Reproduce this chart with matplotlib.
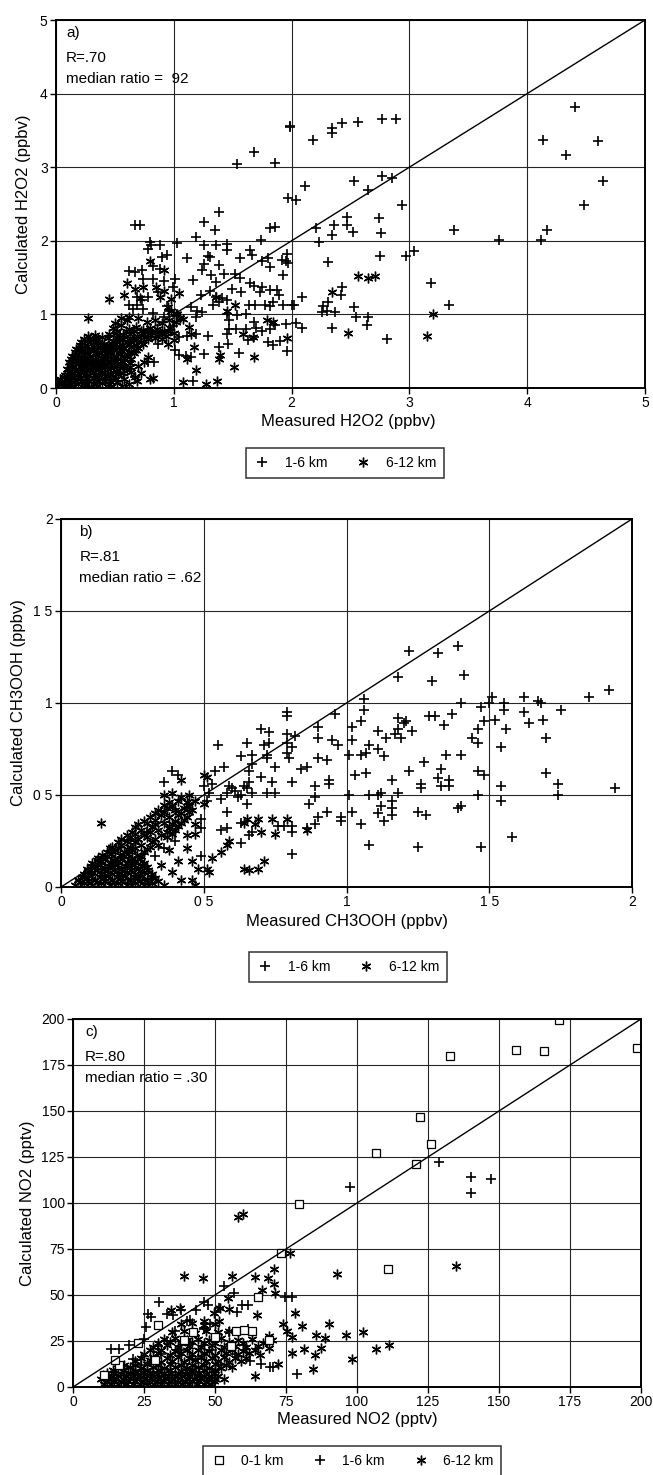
import numpy as np
import matplotlib
matplotlib.use("Agg")
import matplotlib.pyplot as plt
from matplotlib.lines import Line2D

plt.rcParams["font.family"] = ["Liberation Sans", "DejaVu Sans"]

# ---------------- panel a : H2O2 (ppbv), (measured, calculated) ----------------
h2o2_1_6km = [
    (4.41, 3.82), (4.13, 3.37), (4.60, 3.36), (4.33, 3.16), (4.64, 2.81), (4.48, 2.48),
    (4.17, 2.15), (4.12, 2.01), (3.76, 2.01), (3.38, 2.14), (3.18, 1.42), (3.34, 1.13),
    (3.04, 1.86), (2.97, 1.79), (2.94, 2.49), (2.85, 2.86), (2.77, 2.88), (2.89, 3.66),
    (2.77, 3.66), (2.56, 3.61), (2.43, 3.60), (2.34, 3.53), (2.34, 3.47), (2.18, 3.37),
    (1.99, 3.56), (1.99, 3.54), (1.86, 3.06), (1.68, 3.20), (1.54, 3.05), (2.53, 2.81),
    (2.65, 2.69), (2.11, 2.74), (1.97, 2.58), (2.04, 2.55), (2.21, 2.18), (2.23, 1.98),
    (2.36, 2.22), (2.34, 2.08), (2.47, 2.33), (2.47, 2.22), (2.52, 2.12), (2.74, 2.31),
    (2.76, 2.11), (2.75, 1.79), (2.31, 1.71), (2.43, 1.37), (2.42, 1.26), (2.31, 1.17),
    (2.27, 1.11), (2.30, 1.05), (2.26, 1.03), (2.37, 1.03), (2.53, 1.10), (2.55, 0.97),
    (2.65, 0.97), (2.64, 0.86), (2.81, 0.66), (2.34, 0.81), (2.09, 0.82), (2.09, 1.24),
    (2.00, 1.13), (2.02, 1.13), (1.96, 0.50), (2.04, 0.88), (1.95, 0.87), (1.86, 0.85),
    (1.82, 0.80), (1.80, 0.62), (1.84, 0.59), (1.90, 0.64), (1.75, 0.77), (1.68, 0.69),
    (1.63, 0.65), (1.68, 0.90), (1.70, 0.81), (1.61, 0.80), (1.53, 0.80), (1.47, 0.80),
    (1.45, 0.74), (1.47, 0.93), (1.46, 0.60), (1.38, 0.56), (1.55, 0.47), (1.26, 0.46),
    (1.29, 0.70), (1.19, 0.74), (1.11, 0.71), (1.04, 0.69), (1.16, 0.09), (1.04, 0.45),
    (1.10, 0.43), (1.15, 0.42), (1.01, 0.51), (1.19, 0.96), (1.15, 1.10), (1.24, 1.03),
    (1.23, 1.26), (1.31, 1.32), (1.36, 1.44), (1.32, 1.53), (1.24, 1.60), (1.26, 1.69),
    (1.29, 1.80), (1.31, 1.78), (1.19, 2.05), (1.26, 2.25), (1.38, 2.39), (1.35, 2.14),
    (1.26, 1.94), (1.36, 1.94), (1.45, 1.87), (1.45, 1.96), (1.11, 1.76), (1.16, 1.47),
    (1.03, 1.97), (1.01, 1.48), (1.38, 1.67), (1.43, 1.55), (1.52, 1.55), (1.56, 1.50),
    (1.49, 1.35), (1.41, 1.22), (1.36, 1.24), (1.45, 1.20), (1.38, 1.17), (1.33, 1.13),
    (1.20, 1.05), (1.45, 1.01), (1.54, 0.99), (1.61, 1.01), (1.57, 1.30), (1.64, 1.13),
    (1.69, 1.13), (1.77, 1.13), (1.84, 1.17), (1.82, 1.12), (1.89, 1.26), (1.93, 1.13),
    (1.88, 1.33), (1.82, 1.33), (1.75, 1.37), (1.68, 1.38), (1.65, 1.43), (1.73, 1.30),
    (1.65, 1.87), (1.66, 1.81), (1.56, 1.76), (1.75, 1.73), (1.80, 1.77), (1.82, 1.64),
    (1.92, 1.74), (1.95, 1.72), (1.96, 1.82), (1.93, 1.54), (1.82, 2.18), (1.86, 2.19),
    (1.74, 2.01), (1.97, 1.70), (0.67, 2.22), (0.71, 2.22), (0.78, 1.89), (0.80, 1.98),
    (0.88, 1.94), (0.81, 1.94), (0.90, 1.78), (0.94, 1.81), (0.82, 1.66), (0.88, 1.62),
    (0.73, 1.60), (0.62, 1.59), (0.67, 1.57), (0.74, 1.48), (0.82, 1.48), (0.92, 1.45),
    (0.99, 1.37), (0.87, 1.30), (0.78, 1.24), (0.73, 1.19), (0.69, 1.23), (0.62, 1.13),
    (0.69, 1.13), (0.65, 1.08), (0.74, 1.08), (0.82, 1.02), (0.92, 0.96), (0.87, 0.60),
    (0.83, 0.35), (0.78, 0.35), (0.67, 0.15), (0.96, 1.05), (0.94, 1.12), (0.99, 0.84),
]
h2o2_6_12km = [
    # dense cloud near the origin
    (0.02, 0.03), (0.05, 0.08), (0.08, 0.04), (0.10, 0.10), (0.13, 0.05), (0.16, 0.11),
    (0.19, 0.06), (0.22, 0.10), (0.25, 0.04), (0.28, 0.09), (0.32, 0.05), (0.35, 0.10),
    (0.39, 0.07), (0.03, 0.12), (0.07, 0.15), (0.01, 0.07), (0.12, 0.02), (0.30, 0.02),
    (0.04, 0.06), (0.14, 0.08), (0.24, 0.07), (0.34, 0.06), (0.42, 0.09),
    (0.10, 0.14), (0.15, 0.15), (0.20, 0.13), (0.26, 0.14), (0.31, 0.13), (0.36, 0.15),
    (0.41, 0.13), (0.46, 0.14), (0.51, 0.12),
    (0.08, 0.18), (0.13, 0.19), (0.18, 0.17), (0.23, 0.20), (0.28, 0.18), (0.33, 0.17),
    (0.38, 0.20), (0.43, 0.18), (0.48, 0.16), (0.53, 0.19),
    (0.11, 0.22), (0.16, 0.23), (0.21, 0.21), (0.26, 0.23), (0.31, 0.22), (0.36, 0.24),
    (0.41, 0.22), (0.46, 0.21), (0.51, 0.23), (0.57, 0.21),
    (0.09, 0.26), (0.14, 0.28), (0.19, 0.26), (0.24, 0.28), (0.29, 0.26), (0.34, 0.29),
    (0.39, 0.27), (0.44, 0.26), (0.49, 0.28), (0.54, 0.27), (0.60, 0.25),
    (0.12, 0.31), (0.17, 0.32), (0.22, 0.30), (0.27, 0.32), (0.32, 0.31), (0.37, 0.30),
    (0.42, 0.32), (0.47, 0.31), (0.52, 0.32), (0.58, 0.30), (0.63, 0.29),
    (0.11, 0.35), (0.16, 0.37), (0.21, 0.35), (0.26, 0.37), (0.31, 0.36), (0.36, 0.34),
    (0.41, 0.37), (0.46, 0.35), (0.51, 0.37), (0.57, 0.36), (0.63, 0.34),
    (0.13, 0.40), (0.18, 0.41), (0.23, 0.39), (0.28, 0.41), (0.33, 0.40), (0.38, 0.41),
    (0.43, 0.39), (0.48, 0.41), (0.53, 0.40), (0.58, 0.41), (0.64, 0.39),
    (0.14, 0.44), (0.19, 0.46), (0.24, 0.45), (0.29, 0.43), (0.34, 0.46), (0.39, 0.45),
    (0.44, 0.47), (0.49, 0.44), (0.54, 0.46), (0.60, 0.45), (0.66, 0.47),
    (0.16, 0.49), (0.21, 0.50), (0.26, 0.48), (0.31, 0.50), (0.36, 0.49), (0.41, 0.50),
    (0.46, 0.49), (0.51, 0.51), (0.56, 0.50), (0.62, 0.49), (0.68, 0.51),
    (0.17, 0.53), (0.22, 0.55), (0.27, 0.53), (0.32, 0.56), (0.37, 0.54), (0.42, 0.52),
    (0.47, 0.55), (0.52, 0.57), (0.58, 0.54), (0.64, 0.56), (0.70, 0.55),
    (0.20, 0.58), (0.25, 0.59), (0.30, 0.60), (0.35, 0.58), (0.40, 0.57), (0.45, 0.59),
    (0.50, 0.60), (0.56, 0.59), (0.62, 0.60), (0.68, 0.59), (0.74, 0.60),
    (0.21, 0.62), (0.26, 0.64), (0.31, 0.66), (0.36, 0.62), (0.41, 0.60), (0.48, 0.64),
    (0.54, 0.66), (0.60, 0.63), (0.66, 0.65), (0.72, 0.63), (0.78, 0.66),
    (0.24, 0.67), (0.29, 0.68), (0.34, 0.67), (0.39, 0.69), (0.44, 0.68), (0.51, 0.69),
    (0.57, 0.67), (0.63, 0.68), (0.69, 0.66), (0.75, 0.69), (0.84, 0.68), (0.90, 0.66),
    (0.27, 0.70), (0.33, 0.72), (0.45, 0.73), (0.51, 0.75), (0.57, 0.72), (0.63, 0.74),
    (0.69, 0.71), (0.75, 0.74), (0.81, 0.72), (0.87, 0.73), (0.93, 0.70),
    (0.52, 0.78), (0.59, 0.77), (0.66, 0.77), (0.72, 0.78), (0.78, 0.77), (0.84, 0.76),
    (0.90, 0.75), (0.95, 0.77),
    (0.48, 0.82), (0.55, 0.86), (0.62, 0.80), (0.68, 0.83), (0.74, 0.79), (0.80, 0.82),
    (0.86, 0.80), (0.92, 0.78), (0.97, 0.82), (1.00, 0.75), (0.60, 0.92), (0.70, 0.95),
    (0.77, 0.90), (0.84, 0.93), (0.90, 0.88), (0.96, 0.92), (1.02, 0.90), (1.02, 1.00),
    (0.98, 1.05), (1.05, 0.95), (1.00, 0.65), (0.95, 0.60), (0.46, 0.10), (0.52, 0.08),
    (0.58, 0.12), (0.62, 0.06), (0.56, 0.03), (0.67, 0.15), (0.64, 0.22), (0.70, 0.30),
    (0.72, 0.20), (0.75, 0.36), (0.80, 0.12), (0.82, 0.14), (0.78, 0.42), (0.69, 0.10),
    (0.45, 0.05), (0.47, 0.02),
    # scattered points
    (0.27, 0.95), (0.45, 1.21), (0.60, 1.43), (0.71, 1.22), (0.67, 1.35), (0.58, 1.26),
    (0.74, 1.37), (0.85, 1.37), (0.92, 1.32), (0.92, 1.60), (0.88, 1.23), (0.80, 1.73),
    (0.95, 1.10), (1.04, 1.29), (0.98, 1.21), (1.03, 1.01), (1.08, 0.94), (1.13, 0.83),
    (1.15, 0.74), (1.11, 0.39), (1.17, 0.56), (1.39, 0.45), (1.45, 1.05), (1.52, 1.13),
    (1.59, 0.74), (1.36, 1.24), (1.79, 0.92), (1.84, 0.90), (1.67, 0.69), (1.38, 0.40),
    (1.51, 0.29), (1.68, 0.42), (1.19, 0.25), (1.08, 0.08), (1.27, 0.06), (1.37, 0.10),
    (1.96, 0.68), (2.48, 0.75), (2.34, 1.30), (2.56, 1.52), (2.65, 1.50), (2.71, 1.52),
    (3.15, 0.71), (3.20, 1.01), (0.81, 0.76), (0.62, 0.97), (0.55, 0.95), (0.50, 0.88),
]

# ---------------- panel b : CH3OOH (ppbv) ----------------
ch3ooh_1_6km = [
    (1.94, 0.54), (1.92, 1.07), (1.85, 1.03), (1.75, 0.96), (1.74, 0.56), (1.74, 0.50),
    (1.70, 0.62), (1.70, 0.81), (1.69, 0.91), (1.67, 1.01), (1.68, 1.00), (1.64, 0.89),
    (1.62, 0.95), (1.62, 1.03), (1.58, 0.27), (1.56, 0.86), (1.55, 0.96), (1.55, 1.00),
    (1.54, 0.47), (1.54, 0.55), (1.54, 0.76), (1.52, 0.91), (1.51, 1.03), (1.50, 1.00),
    (1.48, 0.90), (1.47, 0.98), (1.46, 0.78), (1.46, 0.63), (1.46, 0.50), (1.47, 0.22),
    (1.48, 0.61), (1.46, 0.86), (1.44, 0.81), (1.41, 1.15), (1.40, 1.00), (1.39, 1.31),
    (1.40, 0.72), (1.40, 0.44), (1.39, 0.43), (1.37, 0.94), (1.35, 0.72), (1.34, 0.88),
    (1.36, 0.58), (1.36, 0.55), (1.33, 0.55), (1.33, 0.64), (1.32, 1.27), (1.32, 0.59),
    (1.30, 1.12), (1.31, 0.93), (1.29, 0.93), (1.28, 0.39), (1.27, 0.68), (1.26, 0.54),
    (1.26, 0.56), (1.25, 0.22), (1.25, 0.41), (1.22, 1.28), (1.22, 0.63), (1.23, 0.85),
    (1.21, 0.90), (1.20, 0.89), (1.19, 0.81), (1.18, 0.92), (1.18, 1.14), (1.18, 0.86),
    (1.17, 0.83), (1.18, 0.51), (1.16, 0.58), (1.14, 0.81), (1.13, 0.71), (1.11, 0.85),
    (1.11, 0.75), (1.16, 0.47), (1.16, 0.43), (1.16, 0.39), (1.13, 0.36), (1.12, 0.51),
    (1.11, 0.50), (1.11, 0.40), (1.12, 0.44), (1.08, 0.23), (1.07, 0.62), (1.08, 0.50),
    (1.05, 0.72), (1.08, 0.77), (1.07, 0.73), (1.06, 0.96), (1.06, 1.02), (1.05, 0.90),
    (1.03, 0.61), (1.02, 0.41), (1.05, 0.34), (1.02, 0.87), (1.02, 0.80), (1.01, 0.72),
    (1.01, 0.50), (0.98, 0.38), (0.98, 0.36), (0.97, 0.77), (0.96, 0.94), (0.95, 0.80),
    (0.94, 0.58), (0.94, 0.56), (0.93, 0.69), (0.90, 0.70), (0.90, 0.81), (0.90, 0.87),
    (0.93, 0.41), (0.90, 0.38), (0.89, 0.55), (0.89, 0.49), (0.89, 0.34), (0.87, 0.45),
    (0.86, 0.32), (0.86, 0.65), (0.84, 0.64), (0.81, 0.57), (0.81, 0.18), (0.82, 0.82),
    (0.81, 0.33), (0.81, 0.30), (0.81, 0.76), (0.80, 0.70), (0.79, 0.73), (0.79, 0.93),
    (0.79, 0.95), (0.79, 0.83), (0.79, 0.78), (0.78, 0.33), (0.76, 0.33), (0.75, 0.51),
    (0.74, 0.57), (0.75, 0.65), (0.73, 0.84), (0.73, 0.78), (0.72, 0.70), (0.72, 0.72),
    (0.72, 0.51), (0.70, 0.86), (0.71, 0.77), (0.70, 0.60), (0.67, 0.67), (0.66, 0.28),
    (0.67, 0.30), (0.67, 0.51), (0.66, 0.57), (0.67, 0.72), (0.65, 0.78), (0.66, 0.63),
    (0.65, 0.54), (0.65, 0.45), (0.63, 0.50), (0.64, 0.55), (0.63, 0.24), (0.63, 0.35),
    (0.63, 0.71), (0.62, 0.49), (0.61, 0.52), (0.60, 0.54), (0.59, 0.55), (0.58, 0.51),
    (0.58, 0.41), (0.58, 0.32), (0.56, 0.31), (0.55, 0.77), (0.56, 0.48), (0.53, 0.56),
    (0.52, 0.51), (0.51, 0.47), (0.50, 0.55), (0.49, 0.17), (0.49, 0.37), (0.49, 0.32),
    (0.36, 0.57), (0.41, 0.61), (0.39, 0.63), (0.57, 0.65), (0.54, 0.63), (0.45, 0.45),
    (0.30, 0.30), (0.36, 0.21), (0.40, 0.25), (0.33, 0.17),
]
ch3ooh_6_12km = [
    # dense cloud near the origin
    (0.05, 0.01), (0.08, 0.02), (0.11, 0.01), (0.14, 0.02), (0.17, 0.01), (0.20, 0.02),
    (0.23, 0.01), (0.26, 0.02), (0.29, 0.01), (0.32, 0.02), (0.36, 0.01),
    (0.065, 0.025), (0.095, 0.03), (0.125, 0.025), (0.155, 0.03), (0.185, 0.025),
    (0.215, 0.03), (0.245, 0.025), (0.275, 0.03), (0.305, 0.025), (0.34, 0.03),
    (0.06, 0.04), (0.09, 0.05), (0.12, 0.04), (0.15, 0.05), (0.18, 0.04), (0.21, 0.05),
    (0.24, 0.04), (0.27, 0.05), (0.30, 0.04), (0.33, 0.05),
    (0.075, 0.055), (0.105, 0.06), (0.135, 0.055), (0.165, 0.06), (0.195, 0.055),
    (0.225, 0.06), (0.255, 0.055), (0.285, 0.06), (0.315, 0.055),
    (0.08, 0.07), (0.11, 0.08), (0.14, 0.07), (0.17, 0.08), (0.20, 0.07), (0.23, 0.08),
    (0.26, 0.07), (0.29, 0.08), (0.32, 0.07),
    (0.095, 0.085), (0.125, 0.09), (0.155, 0.085), (0.185, 0.09), (0.215, 0.085),
    (0.245, 0.09), (0.275, 0.085), (0.305, 0.09),
    (0.09, 0.10), (0.12, 0.11), (0.15, 0.10), (0.18, 0.11), (0.21, 0.10), (0.24, 0.11),
    (0.27, 0.10), (0.30, 0.11),
    (0.105, 0.115), (0.135, 0.12), (0.165, 0.115), (0.195, 0.12), (0.225, 0.115),
    (0.255, 0.12), (0.285, 0.115),
    (0.11, 0.13), (0.14, 0.14), (0.17, 0.13), (0.20, 0.14), (0.23, 0.13), (0.26, 0.14),
    (0.29, 0.13),
    (0.125, 0.145), (0.155, 0.15), (0.185, 0.145), (0.215, 0.15), (0.245, 0.145),
    (0.275, 0.15),
    (0.13, 0.16), (0.16, 0.17), (0.19, 0.16), (0.22, 0.17), (0.25, 0.16), (0.28, 0.17),
    (0.145, 0.175), (0.175, 0.18), (0.205, 0.175), (0.235, 0.18), (0.265, 0.175),
    (0.16, 0.19), (0.19, 0.20), (0.22, 0.19), (0.25, 0.20), (0.29, 0.19),
    (0.17, 0.21), (0.20, 0.21), (0.23, 0.205), (0.26, 0.21), (0.30, 0.205),
    (0.18, 0.22), (0.21, 0.23), (0.24, 0.22), (0.28, 0.23), (0.31, 0.22), (0.34, 0.23),
    (0.20, 0.245), (0.23, 0.25), (0.26, 0.245), (0.32, 0.245),
    (0.21, 0.26), (0.24, 0.27), (0.27, 0.26), (0.30, 0.27), (0.33, 0.26), (0.37, 0.27),
    (0.23, 0.285), (0.26, 0.29), (0.29, 0.285), (0.35, 0.285), (0.39, 0.29),
    (0.25, 0.30), (0.28, 0.31), (0.31, 0.30), (0.34, 0.31), (0.37, 0.30), (0.40, 0.31),
    (0.26, 0.325), (0.32, 0.325), (0.38, 0.32), (0.41, 0.33),
    (0.27, 0.34), (0.30, 0.35), (0.33, 0.34), (0.36, 0.35), (0.39, 0.34), (0.42, 0.35),
    (0.29, 0.36), (0.33, 0.365), (0.40, 0.36), (0.43, 0.365),
    (0.31, 0.38), (0.35, 0.39), (0.38, 0.38), (0.41, 0.39), (0.44, 0.38),
    (0.33, 0.40), (0.36, 0.405), (0.42, 0.40), (0.45, 0.405),
    (0.34, 0.42), (0.37, 0.43), (0.40, 0.42), (0.43, 0.43), (0.46, 0.42),
    (0.36, 0.445), (0.39, 0.44), (0.45, 0.44),
    (0.38, 0.46), (0.41, 0.47), (0.44, 0.46), (0.47, 0.47), (0.36, 0.50), (0.39, 0.51),
    (0.42, 0.49), (0.45, 0.50), (0.38, 0.20), (0.41, 0.14), (0.35, 0.12), (0.39, 0.08),
    (0.42, 0.04), (0.44, 0.28),
    # scattered points
    (0.14, 0.35), (0.42, 0.58), (0.66, 0.09), (0.64, 0.10), (0.69, 0.10), (0.71, 0.14),
    (0.58, 0.23), (0.59, 0.25), (0.53, 0.16), (0.56, 0.19), (0.64, 0.35), (0.68, 0.34),
    (0.69, 0.37), (0.70, 0.30), (0.75, 0.29), (0.74, 0.37), (0.79, 0.37), (0.86, 0.31),
    (0.65, 0.37), (0.51, 0.10), (0.52, 0.08), (0.48, 0.10), (0.46, 0.04), (0.47, 0.01),
    (0.46, 0.14), (0.44, 0.21), (0.47, 0.29), (0.47, 0.34), (0.50, 0.45), (0.51, 0.60),
    (0.50, 0.61),
]

# ---------------- panel c : NO2 (pptv) ----------------
no2_0_1km = [
    (171.0, 199.3), (198.7, 184.5), (156.1, 183.4), (165.9, 182.7), (132.8, 179.8),
    (122.1, 146.9), (125.9, 132.1), (106.8, 127.0), (120.8, 121.0), (110.8, 64.1),
    (79.6, 99.4), (73.1, 72.8), (65.2, 49.0), (62.9, 30.2), (57.4, 30.4), (55.8, 22.4),
    (50.1, 27.2), (29.9, 33.8), (22.8, 23.8), (16.2, 12.1), (14.7, 14.9), (10.8, 6.5),
    (28.8, 14.8), (42.4, 30.1), (60.3, 31.0), (68.9, 25.8), (39.0, 25.5),
]
no2_1_6km = [
    (128.9, 122.5), (140.2, 114.0), (147.2, 113.1), (140.2, 105.3), (97.6, 108.9),
    (53.1, 54.9), (56.6, 51.3), (30.2, 46.0), (26.5, 39.7), (27.3, 38.0), (33.0, 39.7),
    (13.3, 20.5), (16.3, 20.5), (19.8, 22.8), (25.7, 32.8), (37.9, 41.8), (40.0, 36.0),
    (59.4, 44.6), (74.6, 49.1), (62.3, 14.3), (66.1, 12.5), (69.4, 11.0), (78.8, 7.1),
    (48.8, 20.1), (46.0, 32.0), (43.2, 41.7), (46.1, 46.3), (47.6, 44.4), (35.1, 39.3),
    (51.3, 43.0), (61.5, 44.8), (57.9, 40.7), (41.3, 36.5), (48.3, 34.0), (46.1, 31.3),
    (30.0, 22.4), (61.5, 31.3), (77.0, 49.0), (70.4, 10.8), (55.0, 30.0), (36.0, 30.5),
    (33.0, 25.0), (25.0, 26.0), (21.0, 15.0), (18.0, 10.0), (24.0, 12.0), (31.0, 18.0),
    (38.0, 20.0), (44.0, 15.0), (52.0, 12.0), (57.0, 18.0), (40.0, 10.0), (28.0, 8.0),
    (14.0, 5.0), (35.0, 5.0), (45.0, 6.0), (22.0, 4.0),
]
no2_6_12km = [
    # dense cloud at low NO2
    (11.0, 1.5), (13.5, 1.8), (16.0, 1.4), (18.5, 1.9), (21.0, 1.5), (23.5, 1.7),
    (26.0, 1.3), (28.5, 1.8), (31.0, 1.6), (33.5, 1.4), (36.0, 1.9), (38.5, 1.5),
    (41.0, 1.7), (43.5, 1.4), (46.0, 1.8), (48.5, 1.5),
    (12.0, 3.0), (14.5, 3.2), (17.0, 2.9), (19.5, 3.1), (22.0, 3.0), (24.5, 3.3),
    (27.0, 2.8), (29.5, 3.1), (32.0, 3.0), (34.5, 3.2), (37.0, 2.9), (39.5, 3.1),
    (42.0, 3.0), (44.5, 3.2), (47.0, 2.9), (49.5, 3.1),
    (10.0, 4.5), (12.5, 4.2), (15.0, 4.8), (17.5, 4.4), (20.0, 4.7), (22.5, 4.3),
    (25.0, 4.6), (27.5, 4.9), (30.0, 4.4), (32.5, 4.7), (35.0, 4.2), (37.5, 4.8),
    (40.0, 4.5), (42.5, 4.3), (45.0, 4.9), (47.5, 4.4), (50.0, 4.6), (53.0, 4.2),
    (11.0, 6.0), (13.5, 6.2), (16.0, 5.9), (18.5, 6.1), (21.0, 6.0), (23.5, 6.3),
    (26.0, 5.8), (28.5, 6.1), (31.0, 6.0), (33.5, 6.2), (36.0, 5.9), (38.5, 6.1),
    (41.0, 6.0), (43.5, 6.2), (46.0, 5.9), (48.5, 6.1), (51.0, 6.0),
    (12.0, 7.5), (14.5, 7.8), (17.0, 7.3), (19.5, 7.7), (22.0, 7.4), (24.5, 7.9),
    (27.0, 7.5), (29.5, 7.2), (32.0, 7.8), (34.5, 7.4), (37.0, 7.6), (39.5, 7.3),
    (42.0, 7.9), (44.5, 7.5), (47.0, 7.2), (49.5, 7.7),
    (14.0, 9.0), (18.0, 9.2), (22.0, 8.8), (26.0, 9.1), (30.0, 9.0), (34.0, 9.3),
    (38.0, 8.9), (42.0, 9.1), (46.0, 9.0), (50.0, 9.2),
    (16.0, 10.5), (20.0, 10.8), (24.0, 10.2), (28.0, 10.9), (32.0, 10.4), (36.0, 10.7),
    (40.0, 10.3), (44.0, 10.8), (48.0, 10.5), (52.0, 10.1), (56.0, 10.6),
    (18.0, 12.2), (22.0, 12.0), (26.0, 12.4), (30.0, 12.1), (34.0, 12.3), (38.0, 11.9),
    (42.0, 12.2), (46.0, 12.0), (50.0, 12.4), (54.0, 12.1),
    (22.0, 14.0), (27.0, 14.5), (31.0, 13.6), (35.0, 14.3), (39.0, 13.8), (43.0, 14.6),
    (47.0, 13.9), (51.0, 14.4), (55.0, 13.7), (59.0, 14.2),
    (24.0, 16.0), (28.0, 16.4), (33.0, 15.8), (37.0, 16.2), (41.0, 16.0), (45.0, 16.3),
    (49.0, 15.9), (53.0, 16.2), (57.0, 16.0), (61.0, 15.8),
    (25.0, 18.0), (30.0, 18.6), (34.0, 17.5), (38.0, 18.3), (42.0, 17.8), (46.0, 18.7),
    (50.0, 17.6), (54.0, 18.4), (58.0, 17.9), (62.0, 18.5), (66.0, 17.4),
    (27.0, 20.2), (31.0, 20.0), (36.0, 19.8), (40.0, 20.3), (44.0, 20.0), (48.0, 19.7),
    (52.0, 20.2), (56.0, 20.0), (60.0, 19.8), (64.0, 20.3),
    (28.0, 22.0), (33.0, 22.6), (37.0, 21.5), (41.0, 22.4), (45.0, 21.8), (49.0, 22.7),
    (53.0, 21.6), (57.0, 22.3), (61.0, 21.9), (65.0, 22.5), (69.0, 21.4),
    (30.0, 24.0), (34.0, 24.3), (38.0, 23.8), (42.0, 24.2), (46.0, 24.0), (50.0, 23.7),
    (55.0, 24.2), (60.0, 24.0), (67.0, 23.8),
    (32.0, 26.0), (36.0, 26.6), (40.0, 25.5), (44.0, 26.3), (48.0, 25.8), (52.0, 26.7),
    (58.0, 25.6), (63.0, 26.2), (70.0, 25.4),
    (35.0, 30.0), (39.0, 30.6), (43.0, 29.5), (47.0, 30.3), (51.0, 29.8), (55.0, 30.5),
    (38.0, 34.0), (42.0, 34.6), (46.0, 33.5), (50.0, 34.3),
    # scattered points
    (135.0, 65.9), (92.9, 61.4), (102.0, 30.0), (90.2, 34.0), (96.1, 28.3), (98.3, 15.0),
    (106.8, 20.8), (111.1, 22.6), (84.6, 9.9), (85.1, 17.3), (87.3, 21.3), (88.8, 26.7),
    (85.4, 28.0), (81.4, 20.4), (80.7, 33.0), (78.2, 40.3), (77.0, 18.6), (77.0, 27.1),
    (75.5, 30.4), (74.0, 34.3), (76.3, 72.8), (70.7, 64.1), (70.7, 56.0), (71.1, 51.1),
    (68.5, 59.3), (66.4, 52.9), (64.1, 59.6), (56.1, 60.2), (45.8, 59.3), (39.2, 60.2),
    (54.7, 48.1), (54.9, 42.5), (64.8, 38.9), (68.9, 27.6), (64.1, 6.0), (72.3, 12.3),
    (51.7, 43.0), (49.8, 40.3), (51.3, 35.8), (46.1, 35.8), (37.8, 43.0), (34.4, 42.1),
    (58.0, 92.2), (59.8, 94.2),
]

tick_labels_b = ["0", "0 5", "1", "1 5", "2"]

W, H = 653, 1475
fig = plt.figure(figsize=(W / 100, H / 100), dpi=100)


def rect(left, top, right, bottom):
    return [left / W, 1 - bottom / H, (right - left) / W, (bottom - top) / H]


PLUS = dict(marker="+", ms=7, mew=1.2, color="black", ls="none")
STAR = dict(marker=(6, 2, 0), ms=7, mew=1.0, color="black", ls="none")
SQUARE = dict(marker="s", ms=6, mew=0.9, mfc="white", mec="black", ls="none")


def style(ax, lim, ticks, labels):
    ax.set_xlim(0, lim)
    ax.set_ylim(0, lim)
    ax.set_xticks(ticks)
    ax.set_yticks(ticks)
    ax.set_xticklabels(labels)
    ax.set_yticklabels(labels)
    ax.set_axisbelow(True)
    ax.grid(True, color="0.15", lw=0.8)
    ax.tick_params(direction="out", length=4, width=1, labelsize=10, pad=2)
    for s in ax.spines.values():
        s.set_linewidth(1.4)
    ax.plot([0, lim], [0, lim], color="black", lw=1)


def notes(ax, x, lines):
    ys = [0.965, 0.897, 0.84]
    for y, t in zip(ys, lines):
        ax.text(x, y, t, transform=ax.transAxes, fontsize=11, va="center", ha="left")


def legend(handles, labels, cx, cy, ncol):
    leg = fig.legend(handles, labels, loc="center", bbox_to_anchor=(cx / W, 1 - cy / H),
                     ncol=ncol, frameon=True, fancybox=False, edgecolor="black",
                     fontsize=10, handletextpad=1.0, columnspacing=2.0,
                     borderpad=0.55, handlelength=1.2)
    leg.get_frame().set_linewidth(1.1)


# ---- panel a
ax = fig.add_axes(rect(56, 20, 645, 388))
d = np.array(h2o2_6_12km)
ax.plot(d[:, 0], d[:, 1], **STAR)
d = np.array(h2o2_1_6km)
ax.plot(d[:, 0], d[:, 1], **PLUS)
style(ax, 5, range(6), [str(i) for i in range(6)])
notes(ax, 0.017, ["a)", "R=.70", "median ratio =  92"])
ax.set_xlabel("Measured H2O2 (ppbv)", fontsize=12)
ax.set_ylabel("Calculated H2O2 (ppbv)", fontsize=12)
ax.xaxis.set_label_coords(0.497, -0.07)
ax.yaxis.set_label_coords(-0.042, 0.5)
legend([Line2D([], [], **PLUS), Line2D([], [], **STAR)], ["1-6 km", "6-12 km"], 345, 463, 2)

# ---- panel b
ax = fig.add_axes(rect(61, 519, 632, 887))
d = np.array(ch3ooh_6_12km)
ax.plot(d[:, 0], d[:, 1], **STAR)
d = np.array(ch3ooh_1_6km)
ax.plot(d[:, 0], d[:, 1], **PLUS)
style(ax, 2, [0, 0.5, 1, 1.5, 2], tick_labels_b)
notes(ax, 0.032, ["b)", "R=.81", "median ratio = .62"])
ax.set_xlabel("Measured CH3OOH (ppbv)", fontsize=12)
ax.set_ylabel("Calculated CH3OOH (ppbv)", fontsize=12)
ax.xaxis.set_label_coords(0.5, -0.073)
ax.yaxis.set_label_coords(-0.062, 0.5)
legend([Line2D([], [], **PLUS), Line2D([], [], **STAR)], ["1-6 km", "6-12 km"], 348, 967, 2)

# ---- panel c
ax = fig.add_axes(rect(73, 1019, 641, 1387))
d = np.array(no2_6_12km)
ax.plot(d[:, 0], d[:, 1], **STAR)
d = np.array(no2_1_6km)
ax.plot(d[:, 0], d[:, 1], **PLUS)
d = np.array(no2_0_1km)
ax.plot(d[:, 0], d[:, 1], **SQUARE)
style(ax, 200, range(0, 201, 25), [str(i) for i in range(0, 201, 25)])
notes(ax, 0.021, ["c)", "R=.80", "median ratio = .30"])
ax.set_xlabel("Measured NO2 (pptv)", fontsize=12)
ax.set_ylabel("Calculated NO2 (pptv)", fontsize=12)
ax.xaxis.set_label_coords(0.5, -0.068)
ax.yaxis.set_label_coords(-0.067, 0.5)
legend([Line2D([], [], **SQUARE), Line2D([], [], **PLUS), Line2D([], [], **STAR)],
       ["0-1 km", "1-6 km", "6-12 km"], 352, 1461, 3)

fig.savefig("out.png", dpi=100)
